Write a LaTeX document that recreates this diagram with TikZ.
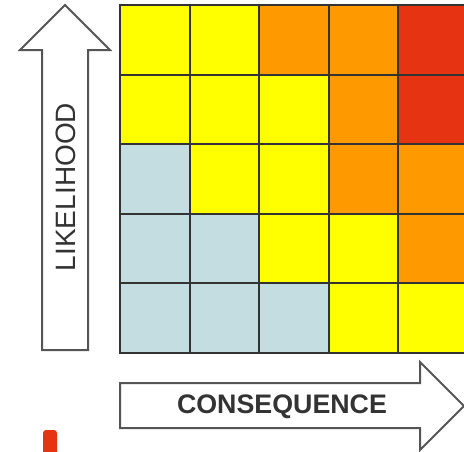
\documentclass[tikz,border=0pt]{standalone}
\usepackage{fontspec}
\setmainfont{Liberation Sans}
\usetikzlibrary{positioning}
\definecolor{low}{HTML}{C3DDE0}
\definecolor{mid}{HTML}{FFFF00}
\definecolor{high}{HTML}{FF9900}
\definecolor{severe}{HTML}{E63312}
\definecolor{edge}{HTML}{333333}
\definecolor{outline}{HTML}{555555}

\begin{document}
\begin{tikzpicture}[x=1pt,y=-1pt]
        \useasboundingbox (0,0) rectangle (464,451);
        \clip (0,0) rectangle (464,451);
        \foreach \row [count=\j from 0] in {{mid,mid,high,high,severe},{mid,mid,mid,high,severe},{low,mid,mid,high,high},{low,low,mid,mid,high},{low,low,low,mid,mid}}{
          \foreach \c [count=\i from 0] in \row {\filldraw[fill=\c,draw=edge,line width=2pt] ({120+69.6*\i},{5+69.6*\j}) rectangle ++(69.6,69.6);}}
        \draw[outline,line width=2pt,fill=white] (42,350)--(42,50)--(20,50)--(65,5)--(110,50)--(88,50)--(88,350)--cycle;
        \node[rotate=90,anchor=base,text=edge,font=\fontsize{28}{30}\selectfont] (likelihood) at (75,187){LIKELIHOOD};
        \draw[outline,line width=2pt,fill=white] (120,383)--(420,383)--(420,362)--(464,406)--(420,450)--(420,428)--(120,428)--cycle;
        \node[anchor=base,text=edge,font=\bfseries\fontsize{26.8}{30}\selectfont] (consequence) at (282,413){CONSEQUENCE};
        \fill[severe,rounded corners=3pt] (43,458)--(43,430)--(57,430)--(57,458);
      \end{tikzpicture}
\end{document}
